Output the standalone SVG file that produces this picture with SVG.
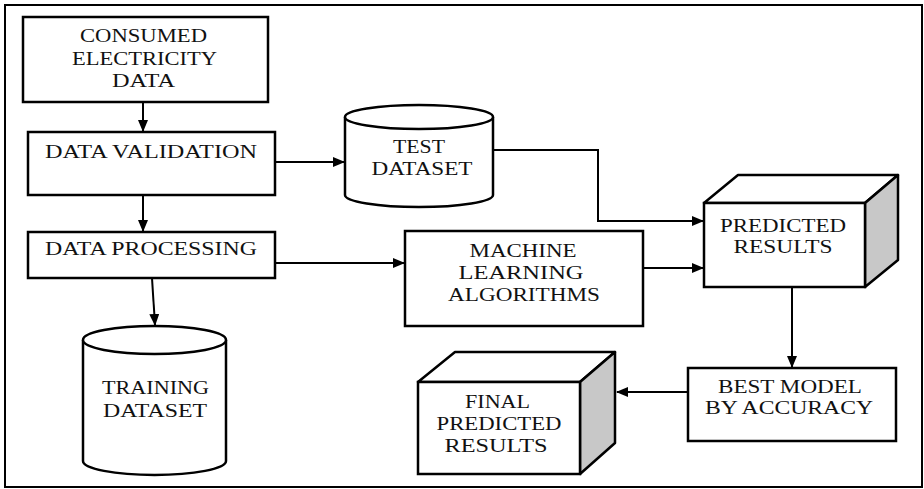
<svg xmlns="http://www.w3.org/2000/svg" width="924" height="489" viewBox="0 0 924 489">
<style>
.box{fill:#fff;stroke:#000;stroke-width:2.5}
.side{fill:#c8c8c8;stroke:#000;stroke-width:2.5;stroke-linejoin:round}
.top{fill:#fff;stroke:#000;stroke-width:2.5;stroke-linejoin:round}
.conn{fill:none;stroke:#000;stroke-width:2}
text{font-family:"Liberation Serif","Times New Roman",serif;font-size:19px;fill:#111;text-anchor:middle}
</style>
<defs>
<marker id="ah" markerUnits="userSpaceOnUse" markerWidth="12" markerHeight="10" refX="11" refY="5" orient="auto">
<path d="M0,0 L12,5 L0,10 Z" fill="#000"/>
</marker>
</defs>
<rect x="0" y="0" width="924" height="489" fill="#fff"/>
<rect x="5" y="5" width="917" height="482" fill="none" stroke="#000" stroke-width="2"/>

<g id="consumed">
<rect class="box" x="23" y="17" width="245" height="85"/>
<text x="143.5" y="42" textLength="127" lengthAdjust="spacingAndGlyphs">CONSUMED</text>
<text x="144.5" y="65" textLength="145" lengthAdjust="spacingAndGlyphs">ELECTRICITY</text>
<text x="143.5" y="87" textLength="63" lengthAdjust="spacingAndGlyphs">DATA</text>
</g>

<g id="validation">
<rect class="box" x="28" y="132" width="247" height="63"/>
<text x="151" y="158" textLength="212" lengthAdjust="spacingAndGlyphs">DATA VALIDATION</text>
</g>

<g id="processing">
<rect class="box" x="28" y="232" width="247" height="46"/>
<text x="151" y="255" textLength="212" lengthAdjust="spacingAndGlyphs">DATA PROCESSING</text>
</g>

<g id="training">
<path class="box" d="M83,340 L83,461 A71.5,14 0 0 0 226,461 L226,340"/>
<ellipse class="box" cx="154.5" cy="340" rx="71.5" ry="14"/>
<text x="155.5" y="394" textLength="107" lengthAdjust="spacingAndGlyphs">TRAINING</text>
<text x="155" y="417" textLength="104" lengthAdjust="spacingAndGlyphs">DATASET</text>
</g>

<g id="test">
<path class="box" d="M345,117 L345,195 A74,12 0 0 0 493,195 L493,117"/>
<ellipse class="box" cx="419" cy="117" rx="74" ry="12"/>
<text x="419" y="153" textLength="52" lengthAdjust="spacingAndGlyphs">TEST</text>
<text x="422" y="175" textLength="101" lengthAdjust="spacingAndGlyphs">DATASET</text>
</g>

<g id="ml">
<rect class="box" x="405" y="231" width="238" height="95"/>
<text x="523" y="257" textLength="107" lengthAdjust="spacingAndGlyphs">MACHINE</text>
<text x="521" y="279" textLength="125" lengthAdjust="spacingAndGlyphs">LEARNING</text>
<text x="524" y="301" textLength="152" lengthAdjust="spacingAndGlyphs">ALGORITHMS</text>
</g>

<g id="predicted">
<polygon class="top" points="704,203 738,175 898,175 865,203"/>
<polygon class="side" points="865,203 898,175 898,260 865,287"/>
<rect class="box" x="704" y="203" width="161" height="84"/>
<text x="783" y="232" textLength="126" lengthAdjust="spacingAndGlyphs">PREDICTED</text>
<text x="783" y="253" textLength="99" lengthAdjust="spacingAndGlyphs">RESULTS</text>
</g>

<g id="best">
<rect class="box" x="688" y="368" width="208" height="73"/>
<text x="790" y="393" textLength="144" lengthAdjust="spacingAndGlyphs">BEST MODEL</text>
<text x="789" y="414" textLength="168" lengthAdjust="spacingAndGlyphs">BY ACCURACY</text>
</g>

<g id="final">
<polygon class="top" points="418,382 455,352 615,352 580,382"/>
<polygon class="side" points="580,382 615,352 615,443 580,474"/>
<rect class="box" x="418" y="382" width="162" height="92"/>
<text x="497.5" y="408" textLength="65" lengthAdjust="spacingAndGlyphs">FINAL</text>
<text x="499" y="430" textLength="125" lengthAdjust="spacingAndGlyphs">PREDICTED</text>
<text x="496" y="452" textLength="103" lengthAdjust="spacingAndGlyphs">RESULTS</text>
</g>

<g id="connectors">
<path class="conn" d="M143,102 V131" marker-end="url(#ah)"/>
<path class="conn" d="M143,195 V231" marker-end="url(#ah)"/>
<path class="conn" d="M152,278 L155,325" marker-end="url(#ah)"/>
<path class="conn" d="M275,162 H344" marker-end="url(#ah)"/>
<path class="conn" d="M493,150 H598 V221 H703" marker-end="url(#ah)"/>
<path class="conn" d="M275,263 H404" marker-end="url(#ah)"/>
<path class="conn" d="M643,268 H703" marker-end="url(#ah)"/>
<path class="conn" d="M792,287 V367" marker-end="url(#ah)"/>
<path class="conn" d="M688,392 H617" marker-end="url(#ah)"/>
</g>
</svg>
